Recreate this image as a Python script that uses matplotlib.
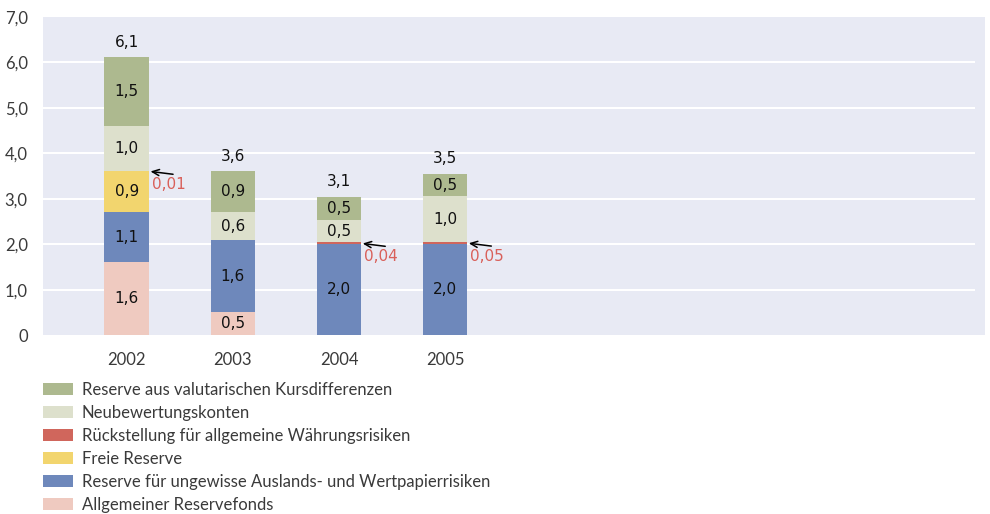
import matplotlib
matplotlib.use("Agg")
import matplotlib.pyplot as plt
import numpy as np

# === Daten (Mrd.) ===
years = ["2002", "2003", "2004", "2005"]
allgemeiner = [1.6, 0.5, 0.0, 0.0]
auslands = [1.1, 1.6, 2.0, 2.0]
freie = [0.9, 0.0, 0.0, 0.0]
rueckstellung = [0.01, 0.0, 0.04, 0.05]
neubewertung = [1.0, 0.6, 0.5, 1.0]
kursdiff = [1.5, 0.9, 0.5, 0.5]
totals = [6.1, 3.6, 3.1, 3.5]

series_names = [
    "Allgemeiner Reservefonds",
    "Reserve für ungewisse Auslands- und Wertpapierrisiken",
    "Freie Reserve",
    "Rückstellung für allgemeine Währungsrisiken",
    "Neubewertungskonten",
    "Reserve aus valutarischen Kursdifferenzen",
]
series_vals = [allgemeiner, auslands, freie, rueckstellung, neubewertung, kursdiff]
series_cols = ["#efcac0", "#6e88bb", "#f2d56e", "#d0665c", "#dde0cc", "#adb98f"]

BG = "#e8eaf4"
RED_TXT = "#d9605a"
TXT = "#111111"

fig = plt.figure(figsize=(9.9, 5.14), dpi=100)
ax = fig.add_axes([0.0434, 0.348, 0.9516, 0.619])
ax.set_facecolor(BG)

x = np.arange(len(years))
width = 0.42
bottom = np.zeros(len(years))
for name, vals, col in zip(series_names, series_vals, series_cols):
    vals = np.array(vals)
    ax.bar(x, vals, width, bottom=bottom, color=col, label=name, zorder=3)
    for i, v in enumerate(vals):
        if v >= 0.3:
            ax.text(x[i], bottom[i] + v / 2, f"{v:.1f}".replace(".", ","),
                    ha="center", va="center", fontsize=11, color=TXT,
                    family="DejaVu Sans", zorder=4)
        elif v > 0:
            # kleine Werte: Pfeil + rote Zahl rechts neben dem Balken
            ypt = bottom[i] + v / 2
            ax.annotate("", xy=(x[i] + width / 2, ypt), xytext=(24, -3),
                        textcoords="offset pixels",
                        arrowprops=dict(arrowstyle="->,head_length=0.5,head_width=0.22",
                                        color="black", lw=1.1, shrinkA=0, shrinkB=1),
                        zorder=5)
            ax.annotate(f"{v:.2f}".replace(".", ","), xy=(x[i] + width / 2, ypt),
                        xytext=(3, -13), textcoords="offset pixels",
                        ha="left", va="center", fontsize=11, color=RED_TXT,
                        family="DejaVu Sans")
    bottom += vals

for i, t in enumerate(totals):
    ax.annotate(f"{t:.1f}".replace(".", ","), xy=(x[i], bottom[i]),
                xytext=(0, 15), textcoords="offset pixels",
                ha="center", va="center", fontsize=11, color=TXT,
                family="DejaVu Sans")

# Gitter
for yv in range(1, 7):
    ax.axhline(yv, xmin=0, xmax=0.988, color="white", lw=1.5, zorder=1)

ax.set_ylim(0, 7)
ax.set_xlim(-0.79, 8.09)
ax.set_yticks(range(0, 8))
ax.set_yticklabels(["0"] + [f"{v},0" for v in range(1, 8)])
ax.set_xticks(x)
ax.set_xticklabels(years)
ax.tick_params(length=0, labelsize=12, colors="#3a3a3a")
ax.tick_params(axis="y", pad=11)
ax.tick_params(axis="x", pad=12)
for lab in ax.get_xticklabels() + ax.get_yticklabels():
    lab.set_family("Lato")
for s in ax.spines.values():
    s.set_visible(False)

handles, labels = ax.get_legend_handles_labels()
leg = fig.legend(handles[::-1], labels[::-1], loc="upper left",
                 bbox_to_anchor=(0.043, 0.257), frameon=False,
                 prop={"family": "Lato", "size": 12},
                 handlelength=1.8, handleheight=0.75, handletextpad=0.55,
                 labelspacing=0.42, borderaxespad=0, borderpad=0)
for t in leg.get_texts():
    t.set_color("#3a3a3a")

fig.savefig("out.png", dpi=100, facecolor="white")
